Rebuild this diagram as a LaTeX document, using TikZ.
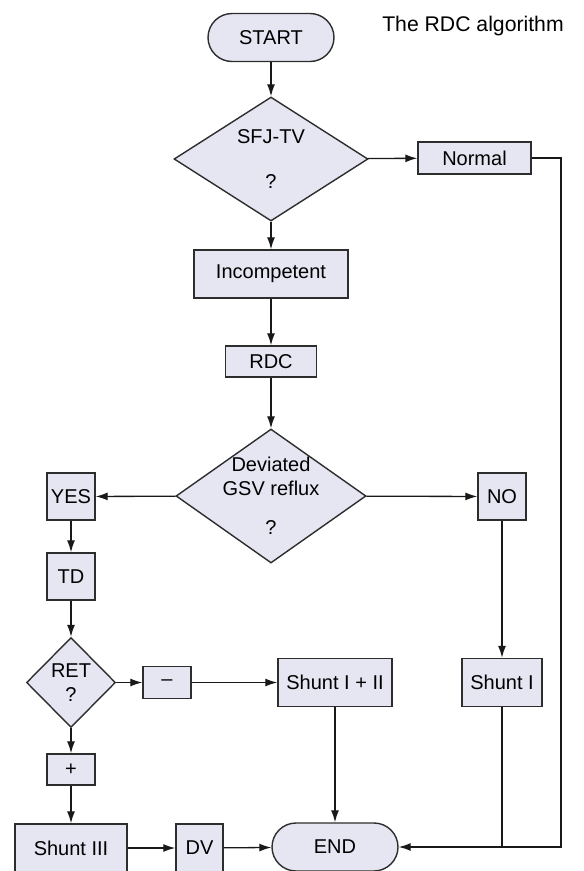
\documentclass[tikz,border=0pt]{standalone}
\usepackage{fontspec}
\setmainfont{Liberation Sans}
\usetikzlibrary{shapes.geometric,arrows.meta}
\definecolor{boxfill}{RGB}{230,230,243}
\definecolor{boxline}{RGB}{45,45,45}
\tikzset{
    process/.style={draw=boxline,fill=boxfill,line width=1.4pt,inner sep=0pt},
    decision/.style={diamond,draw=boxline,fill=boxfill,line width=1.4pt,inner sep=-40pt,align=center},
    terminal/.style={process,rounded corners=24pt,minimum width=126pt,minimum height=48pt},
    flow/.style={draw=black!90,line width=1.3pt,-{Latex[length=12pt,width=8pt]}},
    link/.style={draw=black!90,line width=1.3pt}
}

\begin{document}
\begin{tikzpicture}[x=1pt,y=-1pt,font=\fontsize{20}{23.5}\selectfont]
\useasboundingbox (0,0) rectangle (584,871);

\node[terminal] (start) at (271,37.5) {START};
\node[font=\fontsize{21.2}{25}\selectfont] (title) at (473,26) {The RDC algorithm};
\node[decision,minimum width=194pt,minimum height=124pt] (sfj) at (271,159) {SFJ-TV\\[21pt]?};
\node[process,minimum width=113pt,minimum height=32pt] (normal) at (474.5,158) {Normal};
\coordinate (rail) at (561,158);
\node[process,minimum width=154pt,minimum height=48pt] (incompetent) at (271,274) {Incompetent};
\node[process,minimum width=91pt,minimum height=31pt] (rdc) at (271,361.5) {RDC};
\node[decision,minimum width=190pt,minimum height=134pt] (gsv) at (271,496) {Deviated\\GSV reflux\\[16pt]?};
\node[process,minimum width=48pt,minimum height=47pt] (yes) at (71,496.5) {YES};
\node[process,minimum width=48pt,minimum height=47pt] (no) at (502,496.5) {NO};
\node[process,minimum width=48pt,minimum height=47pt] (td) at (71,576.5) {TD};
\node[decision,minimum width=89pt,minimum height=90pt] (ret) at (71,682.5) {RET\\?};
\node[process,minimum width=48pt,minimum height=32pt] (minus) at (167,682.5) {--};
\node[process,minimum width=114pt,minimum height=48pt] (shunt12) at (335,682.5) {Shunt I + II};
\node[process,minimum width=80pt,minimum height=48pt] (shunt1) at (502,682.5) {Shunt I};
\node[process,minimum width=48pt,minimum height=31pt] (plus) at (71,769.5) {+};
\node[process,minimum width=112pt,minimum height=48pt] (shunt3) at (71,848) {Shunt III};
\node[process,minimum width=47pt,minimum height=48pt] (dv) at (199.5,848) {DV};
\node[terminal] (end) at (335,847) {END};

\draw[flow] (start) -- (sfj);
\draw[flow] (sfj) -- (normal);
\draw[flow] (normal) -- (rail) |- (end);
\draw[flow] (sfj) -- (incompetent);
\draw[flow] (incompetent) -- (rdc);
\draw[flow] (rdc) -- (gsv);
\draw[flow] (gsv) -- (yes);
\draw[flow] (gsv) -- (no);
\draw[flow] (yes) -- (td);
\draw[flow] (td) -- (ret);
\draw[flow] (ret) -- (minus);
\draw[flow] (minus) -- (shunt12);
\draw[flow] (ret) -- (plus);
\draw[flow] (plus) -- (shunt3);
\draw[flow] (shunt3) -- (dv);
\draw[flow] (dv) -- (end);
\draw[flow] (shunt12) -- (end);
\draw[flow] (no) -- (shunt1);
\draw[link] (shunt1) -- (shunt1 |- end);

\end{tikzpicture}
\end{document}
